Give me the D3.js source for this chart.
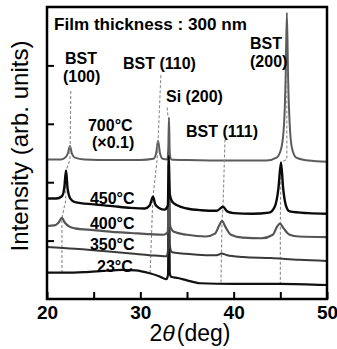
<!DOCTYPE html>
<html>
<head>
<meta charset="utf-8">
<script src="https://cdn.jsdelivr.net/npm/d3@7"></script>
<style>
  body { margin: 0; background: #fff; }
  text { font-family: "Liberation Sans", Arial, sans-serif; }
</style>
</head>
<body>
<svg id="chart"></svg>
<script>
// 2theta (deg) vs intensity (arb. units, one unit = one y tick)
const t700 = [[20, 2.39], [21.5, 2.39], [22.0, 2.43], [22.25, 2.50], [22.46, 2.62], [22.65, 2.50], [23.0, 2.42], [24, 2.39], [27, 2.38], [30, 2.38], [31.4, 2.40], [31.7, 2.50], [31.9, 2.71], [32.1, 2.50], [32.4, 2.40], [32.9, 2.39], [33.0, 2.6], [33.07, 3.11], [33.15, 2.5], [33.3, 2.39], [35, 2.38], [40, 2.37], [43.5, 2.37], [44.6, 2.42], [45.1, 2.58], [45.4, 3.0], [45.57, 3.8], [45.7, 4.9], [45.83, 3.8], [46.0, 3.0], [46.25, 2.58], [46.7, 2.42], [48, 2.37], [50, 2.35]];
const t450 = [[20, 1.72], [21.0, 1.72], [21.6, 1.76], [21.85, 1.90], [22.04, 2.20], [22.2, 1.90], [22.5, 1.72], [23, 1.66], [25, 1.62], [27, 1.59], [29, 1.56], [30.5, 1.55], [31.0, 1.60], [31.36, 1.75], [31.6, 1.62], [32.0, 1.56], [32.6, 1.53], [32.95, 1.6], [33.05, 2.45], [33.15, 1.8], [33.4, 1.67], [34, 1.60], [35, 1.55], [36.5, 1.52], [38.2, 1.51], [38.86, 1.58], [39.3, 1.50], [40, 1.47], [42, 1.46], [43.8, 1.48], [44.4, 1.58], [44.8, 1.9], [45.07, 2.34], [45.3, 1.9], [45.6, 1.6], [46, 1.50], [48, 1.47], [50, 1.46]];
const t400 = [[20, 1.25], [20.8, 1.26], [21.2, 1.30], [21.6, 1.39], [21.9, 1.31], [22.4, 1.24], [23, 1.21], [25, 1.18], [27, 1.15], [29, 1.13], [31, 1.11], [32.5, 1.10], [32.95, 1.15], [33.05, 2.1], [33.2, 1.25], [33.6, 1.15], [35, 1.10], [37, 1.07], [38.0, 1.12], [38.45, 1.26], [38.75, 1.34], [39.1, 1.24], [39.7, 1.10], [41, 1.05], [43, 1.04], [44.2, 1.10], [44.65, 1.24], [44.96, 1.29], [45.35, 1.21], [46, 1.10], [47, 1.07], [50, 1.06]];
const t350 = [[20, 0.89], [23, 0.86], [26, 0.82], [29, 0.78], [31, 0.75], [32.8, 0.73], [32.98, 0.85], [33.05, 2.0], [33.12, 0.95], [33.4, 0.80], [34.5, 0.78], [37, 0.75], [38.2, 0.75], [38.7, 0.78], [39.3, 0.75], [41, 0.72], [44, 0.70], [47, 0.67], [50, 0.65]];
const t23 = [[20, 0.45], [22, 0.45], [24, 0.46], [26, 0.48], [28, 0.50], [29.5, 0.49], [31, 0.44], [32, 0.39], [32.8, 0.34], [32.97, 0.42], [33.05, 2.3], [33.15, 0.45], [33.3, 0.38], [34, 0.36], [35, 0.32], [36.4, 0.27], [40, 0.26], [45, 0.26], [50, 0.24]];

// dashed guides following the peak positions
const g100 = [[22.55, 3.56], [22.46, 2.39], [22.04, 2.20], [22.0, 1.68], [21.6, 1.39], [21.6, 0.45]];
const g110 = [[32.2, 3.83], [31.9, 2.71], [31.8, 2.39], [31.36, 1.75], [31.3, 1.55], [31.05, 0.45]];
const gSi = [[32.87, 3.28], [32.97, 3.11]];
const g111 = [[39.07, 2.73], [38.86, 1.58], [38.75, 1.34], [38.64, 0.27]];
const g200 = [[45.7, 4.0], [45.7, 2.39], [45.07, 2.34], [45.0, 1.29], [45.0, 0.25]];

const xTicks = [20, 25, 30, 35, 40, 45, 50];
const yTicks = [1, 2, 3, 4];

const labels = [
  [21.93, 4.02, "BST"], [21.71, 3.71, "(100)"],
  [28.14, 3.93, "BST (110)"], [32.75, 3.37, "Si (200)"],
  [41.75, 4.28, "BST"], [41.75, 3.97, "(200)"],
  [24.39, 2.87, "700°C"], [24.82, 2.58, "(×0.1)"],
  [34.89, 2.78, "BST (111)"],
  [24.6, 1.62, "450°C"], [24.6, 1.20, "400°C"], [24.6, 0.84, "350°C"], [25.36, 0.46, "23°C"]
];

const W = 337, H = 349;
const margin = { top: 7, right: 10, bottom: 50, left: 47 };

const svg = d3.select("#chart").attr("width", W).attr("height", H);

const x = d3.scaleLinear().domain([20, 50]).range([margin.left, W - margin.right]);
const y = d3.scaleLinear().domain([0, 5]).range([H - margin.bottom, margin.top]);

const line = d3.line()
    .x(d => x(d[0]))
    .y(d => y(d[1]))
    .curve(d3.curveMonotoneX);

const guide = d3.line().x(d => x(d[0])).y(d => y(d[1]));

const plot = svg.append("g");

const drawTrace = (data, color, w) => plot.append("path")
    .datum(data)
    .attr("fill", "none")
    .attr("stroke", color)
    .attr("stroke-width", w)
    .attr("stroke-linejoin", "round")
    .attr("d", line);

drawTrace(t700, "#5c5c5c", 2);

plot.append("g")
    .selectAll("path")
    .data([g100, g110, gSi, g111, g200])
    .join("path")
    .attr("fill", "none")
    .attr("stroke", "#8a8a8a")
    .attr("stroke-width", 1.1)
    .attr("stroke-dasharray", "3,2")
    .attr("d", guide);

drawTrace(t23, "#111", 2.2);
drawTrace(t350, "#3a3a3a", 2);
drawTrace(t400, "#555", 2.2);
drawTrace(t450, "#0a0a0a", 2.4);

svg.append("g")
    .selectAll("text")
    .data(labels)
    .join("text")
    .attr("x", d => x(d[0]))
    .attr("y", d => y(d[1]))
    .attr("font-size", 16)
    .attr("font-weight", "bold")
    .attr("fill", "#000")
    .text(d => d[2]);

svg.append("text")
    .attr("x", 54)
    .attr("y", 30)
    .attr("font-size", 17)
    .attr("font-weight", "bold")
    .attr("textLength", 193)
    .attr("lengthAdjust", "spacingAndGlyphs")
    .text("Film thickness : 300 nm");

// axes with inward ticks
const xAxis = svg.append("g")
    .attr("transform", `translate(0,${H - margin.bottom})`)
    .call(d3.axisBottom(x).tickValues(xTicks).tickSize(-7).tickPadding(7)
        .tickFormat(d => d % 10 === 0 ? d : ""));
xAxis.select(".domain").remove();
xAxis.selectAll("line").attr("stroke", "#000").attr("stroke-width", 2);
xAxis.selectAll("text")
    .attr("font-size", 19)
    .attr("font-weight", "bold")
    .attr("font-family", "'Liberation Sans', Arial, sans-serif")
    .attr("fill", "#000");

const yAxis = svg.append("g")
    .attr("transform", `translate(${margin.left},0)`)
    .call(d3.axisLeft(y).tickValues(yTicks).tickSize(-7).tickFormat(""));
yAxis.select(".domain").remove();
yAxis.selectAll("line").attr("stroke", "#000").attr("stroke-width", 2);

svg.append("rect")
    .attr("x", margin.left)
    .attr("y", margin.top)
    .attr("width", W - margin.left - margin.right)
    .attr("height", H - margin.top - margin.bottom)
    .attr("fill", "none")
    .attr("stroke", "#000")
    .attr("stroke-width", 2.5);

const xt = svg.append("text")
    .attr("x", 190)
    .attr("y", 341)
    .attr("text-anchor", "middle")
    .attr("font-size", 23);
xt.append("tspan").text("2");
xt.append("tspan").attr("font-style", "italic").text("θ");
xt.append("tspan").attr("dx", 2).text("(deg)");

svg.append("text")
    .attr("transform", "translate(28,146) rotate(-90)")
    .attr("text-anchor", "middle")
    .attr("font-size", 24)
    .text("Intensity (arb. units)");
</script>
</body>
</html>
